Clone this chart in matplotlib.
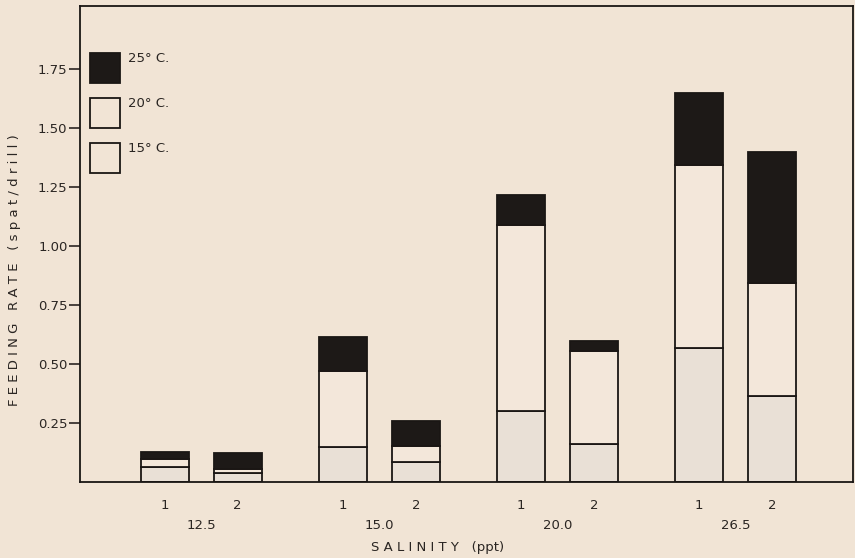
import numpy as np
import matplotlib
matplotlib.use("Agg")
import matplotlib.pyplot as plt
from matplotlib.patches import Rectangle
import matplotlib.transforms as mtransforms

# salinity groups and the two runs in each
salinity = ["12.5", "15.0", "20.0", "26.5"]
runs = ["1", "2"]

# feeding rate contributed at each temperature (stacked, bar order: 12.5-1, 12.5-2, 15.0-1, ...)
rate_15 = [0.064, 0.040, 0.148, 0.085, 0.300, 0.161, 0.568, 0.364]
rate_20 = [0.033, 0.015, 0.322, 0.068, 0.789, 0.394, 0.775, 0.479]
rate_25 = [0.030, 0.068, 0.144, 0.105, 0.127, 0.042, 0.305, 0.557]

yticks = [0.25, 0.50, 0.75, 1.00, 1.25, 1.50, 1.75]

bg = "#f1e4d5"
c15 = "#e9e0d6"
c20 = "#f3e7da"
c25 = "#1d1917"
ink = "#1a1614"
txt = "#2a2522"

plt.rcParams['font.family'] = ['DejaVu Sans']

fig = plt.figure(figsize=(8.55, 5.58), dpi=100, facecolor=bg)
ax = fig.add_axes([0.0936, 0.1362, 0.9041, 0.8528])
ax.set_facecolor(bg)

groups = np.arange(len(salinity))
offset = 0.205
pos = np.ravel([[g - offset, g + offset] for g in groups])
w = 0.27

b15 = np.array(rate_15)
b20 = b15 + np.array(rate_20)
ax.bar(pos, rate_15, w, color=c15, edgecolor=ink, linewidth=1.3)
ax.bar(pos, rate_20, w, bottom=b15, color=c20, edgecolor=ink, linewidth=1.3)
ax.bar(pos, rate_25, w, bottom=b20, color=c25, edgecolor=ink, linewidth=1.3)

ax.set_xlim(-0.68, 3.66)
ax.set_ylim(0, 2.017)

ax.set_yticks(yticks, [f"{v:.2f}" for v in yticks])
ax.tick_params(axis="y", length=8, width=1.2, pad=1, labelsize=9.5, colors=txt)
ax.set_xticks(pos, runs * len(salinity))
ax.tick_params(axis="x", length=0, pad=12, labelsize=9.5, colors=txt)

for s in ax.spines.values():
    s.set_color(ink)
    s.set_linewidth(1.3)

trans = mtransforms.blended_transform_factory(ax.transData, ax.transAxes)
for g, lab in zip(groups, salinity):
    ax.text(g, -0.091, lab, transform=trans, ha="center", va="center",
            fontsize=9.5, color=txt)

ax.set_xlabel("S A L I N I T Y   (ppt)", fontsize=9.5, color=txt)
ax.xaxis.set_label_coords(0.463, -0.125)
ax.set_ylabel("F E E D I N G   R A T E   ( s p a t / d r i l l )", fontsize=9.5, color=txt)
ax.yaxis.set_label_coords(-0.076, 0.445)

# legend boxes
leg = [("25° C.", c25), ("20° C.", c20), ("15° C.", c15)]
for i, (lab, col) in enumerate(leg):
    y0 = 0.838 - i * 0.0945
    ax.add_patch(Rectangle((0.0135, y0), 0.038, 0.063, transform=ax.transAxes,
                           facecolor=col if col == c25 else bg, edgecolor=ink,
                           linewidth=1.3, clip_on=False))
    ax.text(0.062, y0 + 0.066, lab, transform=ax.transAxes, ha="left", va="top",
            fontsize=9.5, color=txt)

fig.savefig("out.png", dpi=100, facecolor=bg)
